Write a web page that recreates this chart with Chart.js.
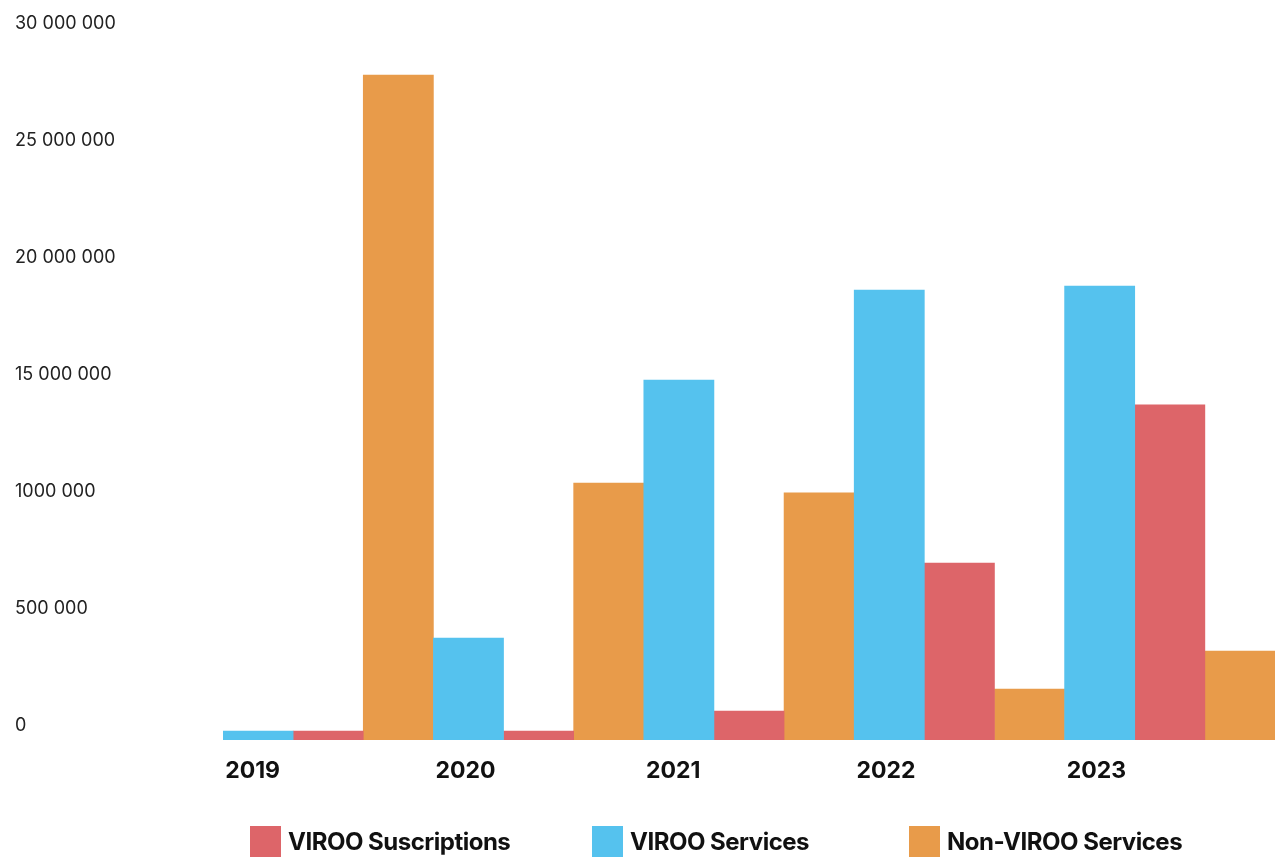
<!DOCTYPE html>
<html>
<head>
<meta charset="utf-8">
<title>VIROO revenue</title>
<script src="https://cdn.jsdelivr.net/npm/chart.js@4.4.1/dist/chart.umd.min.js"></script>
<style>
  html, body { margin: 0; padding: 0; background: #fff; }
  #wrap { position: relative; width: 1285px; height: 858px; }
  #legend { position: absolute; left: 0; top: 826px; width: 1285px; height: 31px; }
  .legend-item { position: absolute; top: 0; display: flex; align-items: center; height: 31px;
    font-family: Inter, sans-serif; font-weight: 700; font-size: 24px; color: #111; letter-spacing: -0.5px; }
  .legend-box { width: 31px; height: 31px; margin-right: 7px; }
</style>
</head>
<body>
<div id="wrap">
  <canvas id="revenueChart" width="1285" height="858"></canvas>
  <div id="legend"></div>
</div>
<script>
// chart data
const years = ['2019', '2020', '2021', '2022', '2023'];
const viroo_services = [380000, 4360000, 15380000, 19230000, 19400000];
const viroo_subscriptions = [380000, 380000, 1240000, 7560000, 14320000];
const non_viroo_services = [28420000, 10980000, 10560000, 2180000, 3800000];
const yTickLabels = ['0', '500 000', '1000 000', '15 000 000', '20 000 000', '25 000 000', '30 000 000'];

// colours + legend placement
const colors = {
  'VIROO Suscriptions': '#DD6569',
  'VIROO Services': '#55C2EE',
  'Non-VIROO Services': '#E89B4A'
};
const legendLeft = { 'VIROO Suscriptions': 250, 'VIROO Services': 592, 'Non-VIROO Services': 909 };
const legendOrder = ['VIROO Suscriptions', 'VIROO Services', 'Non-VIROO Services'];

document.addEventListener('DOMContentLoaded', () => {
  initChart();
  buildLegend();
});

function initChart() {
  const ctx = document.getElementById('revenueChart');

  window.revenueChart = new Chart(ctx, {
    type: 'bar',
    data: {
      labels: years,
      datasets: [
        { label: 'VIROO Services', data: viroo_services, backgroundColor: colors['VIROO Services'] },
        { label: 'VIROO Suscriptions', data: viroo_subscriptions, backgroundColor: colors['VIROO Suscriptions'] },
        { label: 'Non-VIROO Services', data: non_viroo_services, backgroundColor: colors['Non-VIROO Services'] }
      ]
    },
    options: {
      responsive: false,
      animation: false,
      barPercentage: 1,
      categoryPercentage: 1,
      layout: { padding: { top: 38, left: 15, right: 10, bottom: 58 } },
      plugins: {
        legend: { display: false },
        tooltip: { enabled: false }
      },
      scales: {
        x: {
          grid: { display: false, drawTicks: false },
          border: { display: false },
          afterFit: (scale) => { scale.height = 60; },
          ticks: {
            align: 'start',
            labelOffset: -103,
            padding: 17,
            color: '#111',
            font: { family: 'Inter', size: 23, weight: '700' }
          }
        },
        y: {
          min: 0,
          max: 30000000,
          grid: { display: false, drawTicks: false },
          border: { display: false },
          afterFit: (scale) => { scale.width = 208; },
          ticks: {
            stepSize: 5000000,
            crossAlign: 'far',
            labelOffset: -14,
            color: '#222',
            font: { family: 'Inter', size: 18, weight: '400' },
            callback: (value, index) => yTickLabels[index]
          }
        }
      }
    }
  });
}

// html legend, items are not evenly spaced in the original
function buildLegend() {
  const legend = document.getElementById('legend');
  legend.innerHTML = legendOrder.map(name => `
    <div class="legend-item" style="left:${legendLeft[name]}px">
      <span class="legend-box" style="background:${colors[name]}"></span>${name}
    </div>
  `).join('');
}
</script>
</body>
</html>
